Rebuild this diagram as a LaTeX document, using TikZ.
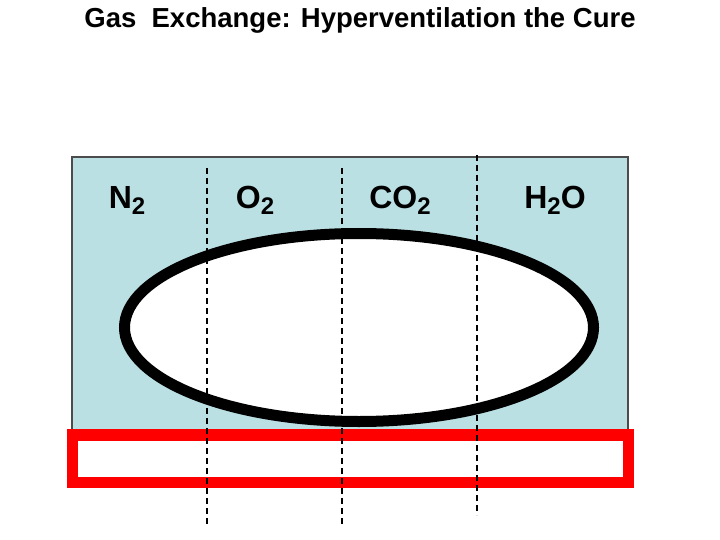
\documentclass[tikz,border=0pt]{standalone}
\usepackage{fontspec}
\setmainfont{Liberation Sans}
\definecolor{alveolus}{RGB}{187,224,228}
\definecolor{wallred}{RGB}{255,0,0}
\newcommand{\subtwo}{\raisebox{-0.35ex}{\fontsize{24}{24}\selectfont 2}}
\tikzset{
  gaslabel/.style={font=\bfseries\fontsize{32}{32}\selectfont, anchor=base, inner sep=0pt},
  divider/.style={black, line width=1.8pt, dash pattern=on 6pt off 4pt}
}
\begin{document}
\begin{tikzpicture}[x=1pt,y=-1pt]
        \useasboundingbox (0,0) rectangle (720,540);

        % Title
        \node[font=\bfseries\fontsize{27.5}{27.5}\selectfont, inner sep=0pt] (title) at (360,20) {Gas\ \ Exchange: Hyperventilation the Cure};

        % Draw the air space
        \draw[fill=alveolus, draw=black!70, line width=1.2pt] (72,157) rectangle (628,435);

        % Draw the membrane (red box)
        \draw[wallred, fill=white, line width=11.5pt] (72.5,435) rectangle (628.5,482.5);

        % Draw the bubble
        \draw[fill=white, line width=11pt] (359,327.5) ellipse (234.5 and 94);

        % Dividers
        \draw[divider] (207,168) -- (207,527);
        \draw[divider] (342,168) -- (342,527);
        \draw[divider] (477,155) -- (477,515);

        % Label gases
        \node[gaslabel] (ntwo) at (127,209) {N\subtwo};
        \node[gaslabel] (otwo) at (255,209) {O\subtwo};
        \node[gaslabel] (cotwo) at (400,209) {CO\subtwo};
        \node[gaslabel] (water) at (555,209) {H\subtwo O};

    \end{tikzpicture}
\end{document}
